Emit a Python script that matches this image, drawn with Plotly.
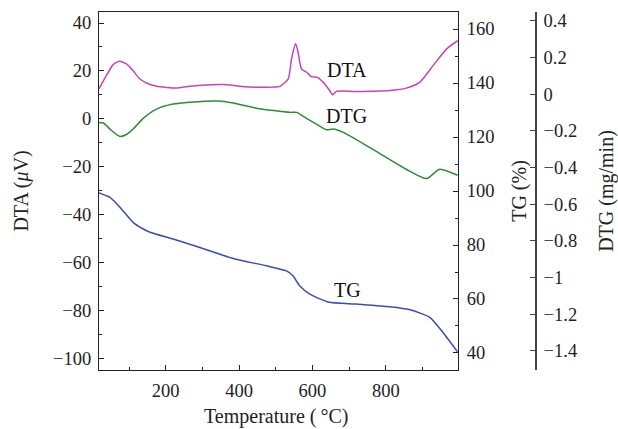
import plotly.graph_objects as go

# ---- data ----
dta_T = [18, 38, 56, 73, 93, 111, 129, 152, 175, 229, 266, 356, 402, 447, 511, 534, 543,
         554, 561, 570, 584, 597, 615, 629, 647, 655, 666, 720, 811, 856, 893, 929, 966, 996]
dta_v = [12.5, 18.0, 22.5, 24.0, 22.9, 20.1, 16.7, 14.6, 13.6, 12.8, 13.6, 14.3, 13.6, 13.2,
         13.5, 16.7, 25.0, 31.3, 27.8, 20.8, 19.5, 17.6, 17.2, 15.3, 11.8, 10.0, 11.5, 11.4,
         11.8, 12.8, 15.3, 22.2, 29.2, 32.6]

dtg_T = [18, 30, 50, 75, 95, 111, 140, 175, 220, 266, 343, 384, 447, 538, 557, 575, 611,
         638, 656, 684, 756, 856, 911, 947, 996]
dtg_v = [-0.155, -0.158, -0.195, -0.231, -0.218, -0.191, -0.130, -0.082, -0.055, -0.045,
         -0.038, -0.049, -0.077, -0.100, -0.100, -0.122, -0.164, -0.195, -0.191, -0.209,
         -0.291, -0.410, -0.461, -0.410, -0.443]

tg_T = [18, 47, 75, 111, 135, 157, 220, 293, 384, 474, 529, 547, 565, 593, 643, 720, 811,
        866, 920, 956, 996]
tg_v = [99.3, 97.7, 94.0, 88.4, 86.2, 84.7, 82.2, 79.1, 75.0, 72.3, 70.4, 68.6, 64.9, 61.8,
        58.9, 58.1, 57.1, 56.0, 53.2, 47.6, 40.4]

curve_labels = ["DTA", "DTG", "TG"]
label_T = [694, 694, 696]
label_y = [20.5, 1.2, -71.5]

x_title = "Temperature (\u2009°C)"

FONT = "Liberation Serif, Times New Roman, serif"
TXT = "#222222"

fig = go.Figure()
fig.add_trace(go.Scatter(x=dta_T, y=dta_v, mode="lines", yaxis="y",
                         line=dict(color="#C545B8", width=1.5, shape="spline", smoothing=0.6),
                         showlegend=False))
fig.add_trace(go.Scatter(x=dtg_T, y=dtg_v, mode="lines", yaxis="y3",
                         line=dict(color="#2E8B35", width=1.5, shape="spline", smoothing=0.6),
                         showlegend=False))
fig.add_trace(go.Scatter(x=tg_T, y=tg_v, mode="lines", yaxis="y2",
                         line=dict(color="#3A4DB5", width=1.5, shape="spline", smoothing=0.6),
                         showlegend=False))

for t, x, y in zip(curve_labels, label_T, label_y):
    fig.add_annotation(x=x, y=y, xref="x", yref="y", text=t, showarrow=False,
                       font=dict(family=FONT, size=20, color="#111111"))

tickfont = dict(family=FONT, size=18.5, color=TXT)
titlefont = dict(family=FONT, size=20, color=TXT)

# x-axis title placed below tick labels
fig.add_annotation(x=0.405, y=-0.13, xref="paper", yref="paper", text=x_title,
                   showarrow=False, xanchor="center", yanchor="middle", font=titlefont)

fig.update_layout(
    width=618, height=429,
    margin=dict(l=99, r=82, t=12, b=59),
    paper_bgcolor="white", plot_bgcolor="white",
    xaxis=dict(domain=[0, 0.8215], range=[18, 997], tickvals=[200, 400, 600, 800],
               ticks="inside", ticklen=5, tickcolor="#222", showline=True, linecolor="#222",
               linewidth=1.3, mirror=True, showgrid=False, zeroline=False,
               tickfont=tickfont, ticklabelstandoff=4, automargin=False,
               minor=dict(tickvals=[100, 300, 500, 700, 900], ticks="inside", ticklen=3,
                          tickcolor="#222")),
    yaxis=dict(range=[-105, 44.6], tickvals=[-100, -80, -60, -40, -20, 0, 20, 40],
               ticks="inside", ticklen=5, tickcolor="#222", showline=True, linecolor="#222",
               linewidth=1.3, showgrid=False, zeroline=False, tickfont=tickfont,
               ticklabelstandoff=3, automargin=False,
               minor=dict(dtick=10, ticks="inside", ticklen=3, tickcolor="#222"),
               title=dict(text="DTA (<i>μ</i>V)", font=titlefont, standoff=18)),
    yaxis2=dict(range=[33.7, 166.3], tickvals=[40, 60, 80, 100, 120, 140, 160],
                overlaying="y", side="right", anchor="x",
                ticks="inside", ticklen=5, tickcolor="#222", showline=True, linecolor="#222",
                linewidth=1.3, showgrid=False, zeroline=False, tickfont=tickfont,
                ticklabelstandoff=4, automargin=False,
                minor=dict(dtick=10, ticks="inside", ticklen=3, tickcolor="#222"),
                title=dict(text="TG (%)", font=titlefont, standoff=18)),
    yaxis3=dict(range=[-1.504, 0.447],
                tickvals=[-1.4, -1.2, -1.0, -0.8, -0.6, -0.4, -0.2, 0, 0.2, 0.4],
                ticktext=["−1.4", "−1.2", "−1", "−0.8", "−0.6", "−0.4", "−0.2", "0", "0.2", "0.4"],
                overlaying="y", side="right", anchor="free", position=1,
                ticks="inside", ticklen=5, tickcolor="#444", showline=True, linecolor="#444",
                linewidth=1.8, showgrid=False, zeroline=False, tickfont=tickfont,
                ticklabelstandoff=3, automargin=False,
                title=dict(text="DTG (mg/min)", font=titlefont, standoff=24)),
)

fig.write_html("out.html")
